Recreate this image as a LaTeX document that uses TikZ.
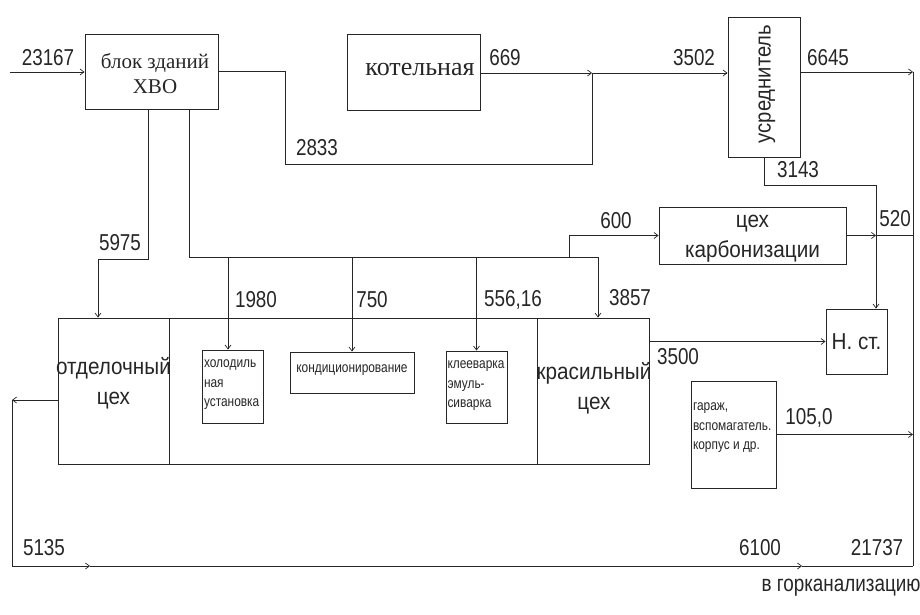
\documentclass[tikz,border=0pt]{standalone}
\usepackage{fontspec}
\setmainfont{Liberation Sans}
\newfontfamily\nar[FakeStretch=0.82]{Liberation Sans}
\newfontfamily\medsans[FakeStretch=0.9]{Liberation Sans}
\newfontfamily\ser{Liberation Serif}
\usetikzlibrary{arrows.meta}
\begin{document}
\begin{tikzpicture}[x=1pt,y=-1pt,
  line width=0.9pt, color=black!85,
  box/.style={draw,rectangle,inner sep=0pt},
  arr/.style={-{Straight Barb[length=4pt,width=6pt,line width=0.7pt]}},
  num/.style={font=\nar\fontsize{23}{23}\selectfont,inner sep=0pt},
  big/.style={font=\medsans\fontsize{23}{30}\selectfont,align=center},
  small/.style={font=\nar\fontsize{14.5}{19.5}\selectfont,align=left}]
\useasboundingbox (0,0) rectangle (920,615);
% boxes
\node[box,minimum width=133,minimum height=75] (xbo) at (151.5,71.5) {};
\node[font=\ser\fontsize{21}{25}\selectfont,align=center,inner sep=0pt] (xbot) at (155,74) {блок зданий\\ХВО};
\node[box,minimum width=133,minimum height=76] (kot) at (413.5,72) {};
\node[font=\ser\fontsize{26}{26}\selectfont,anchor=east,inner sep=0pt] (kott) at (475,70) {котельная};
\node[box,minimum width=72,minimum height=140] (usr) at (764,87) {};
\node[font=\medsans\fontsize{22.5}{22.5}\selectfont,rotate=90,inner sep=0pt] (usrt) at (767,84) {усреднитель};
\node[box,minimum width=187,minimum height=57] (karb) at (752.5,235.5) {};
\node[big,inner sep=0pt] (karbt) at (752.5,239) {цех\\карбонизации};
\node[box,big,minimum width=61,minimum height=65] (nst) at (856.5,341.5) {Н. ст.};
\node[box,minimum width=111,minimum height=146] (otd) at (113.5,391) {};
\node[big,inner sep=0pt] (otdt) at (113.5,383) {отделочный\\цех};
\node[box,minimum width=368,minimum height=146] (midbox) at (353,391) {};
\node[box,minimum width=112,minimum height=146] (kras) at (593,391) {};
\node[big,inner sep=0pt] (krast) at (594,388) {красильный\\цех};
\node[box,minimum width=61,minimum height=73] (hol) at (232.5,386.5) {};
\node[small,anchor=north west,inner sep=0pt] (holt) at (hol.north west) [xshift=2pt,yshift=-10pt] {холодиль\\ная\\установка};
\node[box,minimum width=124,minimum height=41] (kond) at (352,372.5) {};
\node[small,inner sep=0pt] (kondt) at (352,370) {кондиционирование};
\node[box,minimum width=61,minimum height=72] (klee) at (476.5,387) {};
\node[small,anchor=north west,inner sep=0pt] (kleet) at (klee.north west) [xshift=1.5pt,yshift=-10pt] {клееварка\\эмуль-\\сиварка};
\node[box,minimum width=85,minimum height=107] (gar) at (733.5,434.5) {};
\node[small,anchor=north west,inner sep=0pt] (gart) at (gar.north west) [xshift=2pt,yshift=-22pt] {гараж,\\вспомагатель.\\корпус и др.};
% coordinates
\coordinate (in) at (10,72);
\coordinate (j1) at (592,73);
\coordinate (r1) at (913,72);
\coordinate (r2) at (913,566);
\coordinate (c3) at (876,185);
\coordinate (cc) at (876,235.5);
\coordinate (d1) at (189,257);
\coordinate (d2) at (598,257);
\coordinate (lb) at (12,400);
\coordinate (lb2) at (12,566);
\coordinate (a1) at (90,566);
\coordinate (a2) at (802,566);
% connectors
\draw[arr] (in) -- (in -| xbo.west);
\draw (xbo.east) -- (285,71.5) -- (285,164) -- (592,164) -- (j1);
\draw[arr] (kot.east |- j1) -- (j1);
\draw[arr] (j1) -- (j1 -| usr.west);
\draw[arr] (usr.east |- r1) -- (r1);
\draw (r1) -- (r2);
\draw[arr] (usr.south) |- (c3) -- (c3 |- nst.north);
\draw[arr] (karb.east) -- (cc);
\draw (cc) -- (cc -| r1);
\draw[arr] (xbo.south -| 148,0) -- (148,259) -- (98,259) -- (98,0 |- otd.north);
\draw (xbo.south -| d1) -- (d1) -- (d2);
\draw[arr] (d2) -- (d2 |- kras.north);
\draw[arr] (228,257) -- (228,0 |- hol.north);
\draw[arr] (kond.north |- d1) -- (kond.north);
\draw[arr] (klee.north |- d1) -- (klee.north);
\draw[arr] (569,257) |- (karb.west);
\draw[arr] (nst.west -| kras.east) -- (nst.west);
\draw[arr] (gar.east) -- (gar.east -| r1);
\draw[arr] (otd.west |- lb) -- (lb);
\draw (lb) -- (lb2);
\draw[arr] (lb2) -- (a1);
\draw[arr] (a1) -- (a2);
\draw (a2) -- (r2);
% labels
\node[num] (l1) at (48,58) {23167};
\node[num] (l2) at (317,148) {2833};
\node[num] (l3) at (505,58) {669};
\node[num] (l4) at (694,58) {3502};
\node[num] (l5) at (828,58) {6645};
\node[num] (l6) at (798,170) {3143};
\node[num] (l7) at (616,221) {600};
\node[num] (l8) at (895,219) {520};
\node[num] (l9) at (120,243) {5975};
\node[num] (l10) at (256,300) {1980};
\node[num] (l11) at (372,300) {750};
\node[num] (l12) at (513,300) {556,16};
\node[num] (l13) at (630,298) {3857};
\node[num] (l14) at (678,357) {3500};
\node[num] (l15) at (809,418) {105,0};
\node[num] (l16) at (44,548) {5135};
\node[num] (l17) at (760,548) {6100};
\node[num] (l18) at (877,548) {21737};
\node[num,anchor=east] (l19) at (921,588) {в горканализацию};
\end{tikzpicture}
\end{document}
